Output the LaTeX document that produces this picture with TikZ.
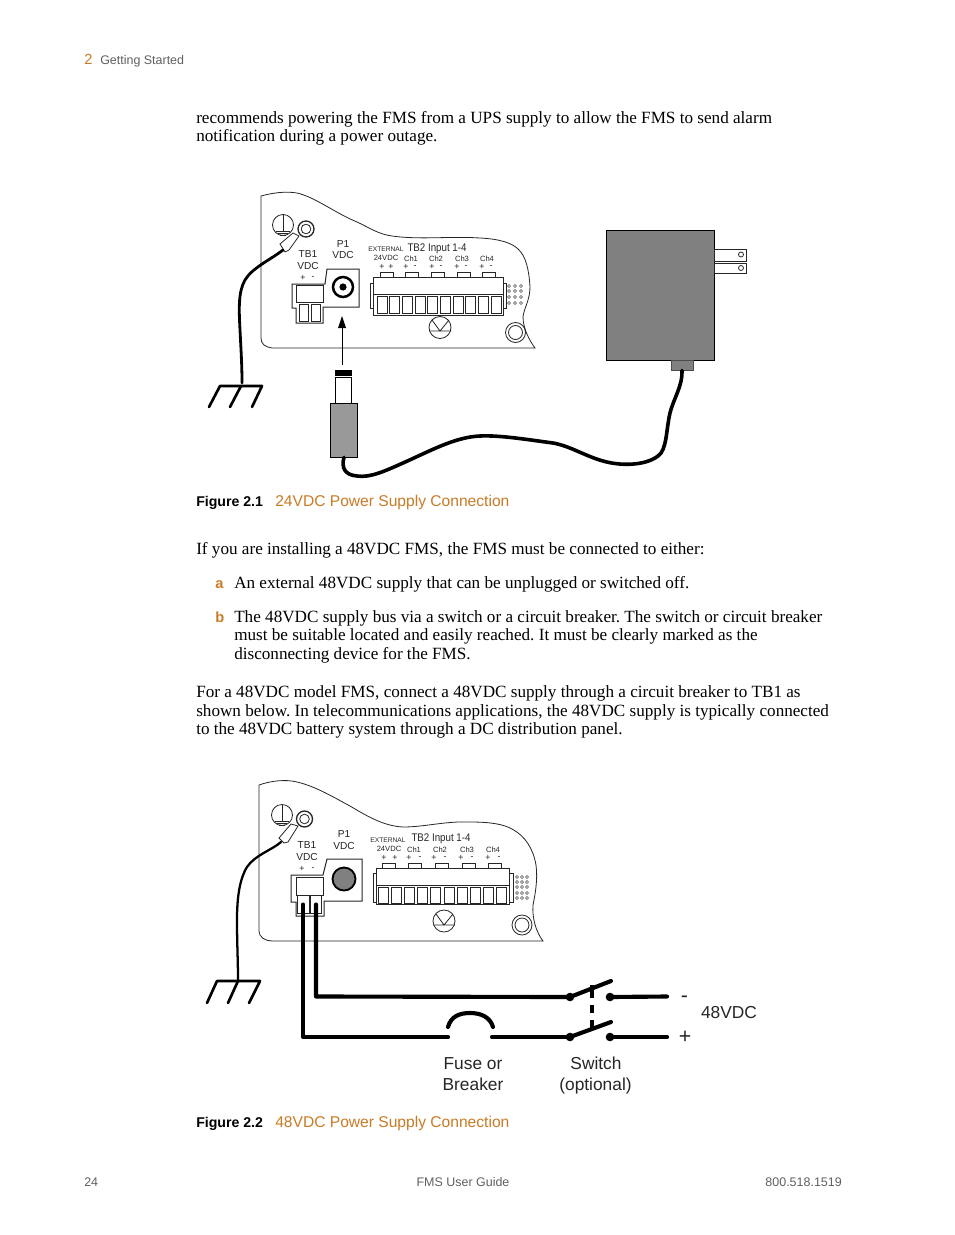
\documentclass[tikz,border=0pt]{standalone}
\usepackage{fontspec}
\setmainfont{Liberation Serif}
\setsansfont{Liberation Sans}
\newfontfamily\condsans[FakeStretch=0.88]{Liberation Sans}
\definecolor{accent}{HTML}{C97B26}
\definecolor{footgray}{HTML}{606060}
\newcommand{\fz}[1]{\fontsize{#1}{#1}\selectfont}
\frenchspacing
\tikzset{
  x=0.75pt,y=-0.75pt,
  body/.style={anchor=base west,inner sep=0pt,font=\rmfamily\fz{12.85}},
  sans/.style={inner sep=0pt,font=\sffamily\fz{9.35},text=footgray},
  capt/.style={anchor=base west,inner sep=0pt,font=\sffamily\fz{11.7}},
  capb/.style={anchor=base west,inner sep=0pt,font=\sffamily\bfseries\fz{10.6}},
  thinl/.style={draw=black!85,line width=0.6pt},
  med/.style={draw=black!85,line width=0.75pt},
  wire/.style={draw=black,line width=3.1pt,line cap=round,line join=round},
  cable/.style={draw=black,line width=2.7pt,line cap=round},
  earthw/.style={draw=black,line width=2.1pt,line cap=round},
  gnd/.style={draw=black,line width=2pt,line cap=round,line join=round},
  dlabel/.style={anchor=base,inner sep=0pt,font=\sffamily\fz{13},text=black!85},
  plabel/.style={inner sep=0pt,font=\sffamily\fz{7.6},text=black!85},
  tlabel/.style={inner sep=0pt,font=\condsans\fz{8.3},text=black!85},
  slabel/.style={inner sep=0pt,font=\sffamily\fz{5.7},text=black!85},
  xlabel/.style={inner sep=0pt,font=\sffamily\fz{5},text=black!85},
  pm/.style={inner sep=0pt,font=\sffamily\fz{6.6},text=black!85},
}
\begin{document}
\begin{tikzpicture}
\useasboundingbox[fill=white] (0,0) rectangle (954,1235);
% running head
\node[anchor=base west,inner sep=0pt,font=\sffamily\fz{11},text=accent] (chap) at (84,64) {2};
\node[anchor=base west,sans] (head) at (100,64) {Getting Started};
% body text
\node[body] (t1) at (196,123) {recommends powering the FMS from a UPS supply to allow the FMS to send alarm};
\node[body] (t2) at (196,141.5) {notification during a power outage.};
\node[body] (t3) at (196,554) {If you are installing a 48VDC FMS, the FMS must be connected to either:};
\node[anchor=base west,inner sep=0pt,font=\sffamily\bfseries\fz{11},text=accent] (la) at (215,588) {a};
\node[body] (t4) at (234,588) {An external 48VDC supply that can be unplugged or switched off.};
\node[anchor=base west,inner sep=0pt,font=\sffamily\bfseries\fz{11},text=accent] (lb) at (215,622) {b};
\node[body] (t5) at (234,622) {The 48VDC supply bus via a switch or a circuit breaker. The switch or circuit breaker};
\node[body] (t6) at (234,640.5) {must be suitable located and easily reached. It must be clearly marked as the};
\node[body] (t7) at (234,659) {disconnecting device for the FMS.};
\node[body] (t8) at (196,697) {For a 48VDC model FMS, connect a 48VDC supply through a circuit breaker to TB1 as};
\node[body] (t9) at (196,716) {shown below. In telecommunications applications, the 48VDC supply is typically connected};
\node[body] (t10) at (196,734.5) {to the 48VDC battery system through a DC distribution panel.};
% captions
\node[capb] (c1a) at (196,506) {Figure 2.1};
\node[capt,text=accent] (c1b) at (275,506) {24VDC Power Supply Connection};
\node[capb] (c2a) at (196,1127) {Figure 2.2};
\node[capt,text=accent] (c2b) at (275,1127) {48VDC Power Supply Connection};
% footer
\node[anchor=base west,sans] (f1) at (84,1186) {24};
\node[anchor=base,sans] (f2) at (463,1186) {FMS User Guide};
\node[anchor=base east,sans] (f3) at (842,1186) {800.518.1519};

% ================= FIGURE 2.1 =================
\draw[thinl] (261,232) -- (261,196) .. controls (272,193) and (285,191) .. (297,193)
  .. controls (315,197) and (335,213) .. (357,222)
  .. controls (370,228) and (378,234) .. (392,236)
  .. controls (420,240) and (450,236) .. (480,238)
  .. controls (500,239) and (512,243) .. (518,249)
  .. controls (526,256) and (529,270) .. (530,287)
  .. controls (530,300) and (524,308) .. (523,317)
  .. controls (523,328) and (529,340) .. (535,348)
  -- (272,348) .. controls (265,347) and (261,344) .. (261,338) -- (261,232);
% earth symbol, ring, lug
\draw[thinl] (283,225) circle (10.5);
\draw[thinl] (283,215) -- (283,231) (276,231) -- (290,231) (278,233) -- (288,233) (280,235) -- (286,235);
\draw[med,line width=1pt] (306,229) circle (8);
\draw[thinl] (306,229) circle (4.8);
\draw[thinl,fill=white] (299,236) -- (289,250) -- (285,252) -- (280,244) -- (293,233) -- cycle;
% earth wire
\coordinate (w1a) at (283,250);
\coordinate (w1b) at (242,383);
\draw[earthw] (w1a) .. controls (270,260) and (252,268) .. (245,280)
  .. controls (238,292) and (239,310) .. (240,330) .. controls (241,350) and (242,365) .. (w1b);
\draw[gnd] (209,407) -- (220,386) -- (262,386) -- (252,407);
\draw[gnd] (241,386) -- (230,407);
% TB1 / P1 housing
\draw[med] (292,284) -- (325,284) -- (327,269) -- (359,269) -- (359,307) -- (323,307) -- (323,323) -- (296,323) -- (296,308) -- (292,308) -- cycle;
\draw[thinl] (296,285) rectangle (323,302);
\draw[med] (299,304) rectangle (308,321);
\draw[med] (311,304) rectangle (320,321);
\draw[line width=1.9pt] (343,287) circle (10);
\fill (343,287) circle (3.6);
\node[plabel] (p1a) at (308,254) {TB1};
\node[plabel] (p1b) at (308,266) {VDC};
\node[pm] (p1c) at (303,278) {+};
\node[pm] (p1d) at (313,278) {-};
\node[plabel] (p1e) at (343,244) {P1};
\node[plabel] (p1f) at (343,255) {VDC};
\node[xlabel] (p1g) at (386,249.5) {EXTERNAL};
\node[tlabel] (p1h) at (437,248.5) {TB2 Input 1-4};
\node[slabel] (p1i) at (386,258) {24VDC};
\foreach \n/\px in {Ch1/411,Ch2/436,Ch3/462,Ch4/487}{\node[slabel] at (\px,259) {\n};}
\foreach \px/\a/\b in {381/+/+,405/+/-,431/+/-,456/+/-,481/+/-}{
  \node[pm] at (\px+1,267) {\a};
  \node[pm] at (\px+10,267) {\b};
}
% TB2
\draw[thinl] (370,283) rectangle (373,308);
\draw[thinl] (503,283) rectangle (506,308);
\draw[med,fill=white] (373,277) rectangle (503,315);
\draw[thinl] (373,294.5) -- (503,294.5);
\foreach \i in {0,...,9}{\draw[med] (377+12.7*\i,296.5) rectangle (387+12.7*\i,313);}
\foreach \px in {380,405,431,457,482}{\draw[thinl] (\px,277) -- (\px,272) -- (\px+13,272) -- (\px+13,277);}
\foreach \px in {509,515,521}{\foreach \py in {286,291,297,303}{\draw[black!70,line width=0.4pt] (\px,\py) circle (1.6);}}
% V circle, ring
\draw[thinl] (440,327.5) circle (11);
\draw[thinl] (429,331) -- (451,331) (432,320) -- (440,331) -- (449,320);
\draw[thinl] (515.5,332.5) circle (10);
\draw[thinl] (515.5,332.5) circle (7);
% plug and arrow
\node[draw=black,line width=0.6pt,fill=white,minimum width=12.4pt,minimum height=19.5pt,inner sep=0pt] (tip) at (343.5,390) {};
\fill (335,370) rectangle (352,376);
\node[draw=black,line width=0.5pt,fill=black!40,minimum width=20.7pt,minimum height=40.5pt,inner sep=0pt] (plug) at (344,430) {};
\coordinate (arrowfrom) at (342,365);
\coordinate (arrowto) at (342,316);
\draw[line width=0.6pt] (arrowfrom) -- (342,326);
\fill (arrowto) -- (346,328) -- (338,328) -- cycle;
% adapter
\node[draw=black,line width=0.7pt,fill=black!50,minimum width=81pt,minimum height=97.5pt,inner sep=0pt] (adapter) at (660,295) {};
\node[draw=black!70,line width=0.5pt,fill=black!50,minimum width=16.5pt,minimum height=7.5pt,inner sep=0pt] (strain) at (682,365) {};
\draw[thinl] (714,249) rectangle (746,261);
\draw[thinl] (714,263) rectangle (746,273);
\draw[thinl] (741,254.5) circle (2.5);
\draw[thinl] (741,268) circle (2.5);
% adapter cable
\draw[cable] (strain.south) .. controls (683,385) and (673,400) .. (670,413)
  .. controls (666,430) and (667,450) .. (658,456)
  .. controls (645,466) and (620,466) .. (603,461)
  .. controls (585,456) and (570,446) .. (553,443)
  .. controls (530,440) and (500,435) .. (480,436)
  .. controls (455,437) and (430,451) .. (403,463)
  .. controls (385,471) and (370,478) .. (357,476)
  .. controls (345,475) and (341,468) .. (plug.south);

% ================= FIGURE 2.2 =================
\draw[thinl] (259,822) -- (259,785) .. controls (270,781) and (285,779) .. (297,782)
  .. controls (315,786) and (335,798) .. (350,806)
  .. controls (370,818) and (385,826) .. (403,827)
  .. controls (425,827) and (445,821) .. (470,822)
  .. controls (490,822) and (503,824) .. (512,829)
  .. controls (525,836) and (533,848) .. (536,865)
  .. controls (538,880) and (535,895) .. (533,905)
  .. controls (532,918) and (536,932) .. (543,941)
  -- (272,941) .. controls (265,941) and (259,937) .. (259,931) -- (259,822);
\draw[thinl] (282,815) circle (10.5);
\draw[thinl] (282,805) -- (282,821) (275,821) -- (289,821) (277,823) -- (287,823) (279,825) -- (285,825);
\draw[med,line width=1pt] (304.5,819) circle (8);
\draw[thinl] (304.5,819) circle (4.8);
\draw[thinl,fill=white] (298,826) -- (288,842) -- (284,843) -- (279,838) -- (291,824) -- cycle;
\coordinate (w2a) at (281,842);
\coordinate (w2b) at (238,980);
\draw[draw=black,line width=1.7pt,line cap=round] (w2a) .. controls (272,850) and (255,855) .. (247,867)
  .. controls (239,880) and (237,900) .. (237,920) .. controls (237,945) and (238,960) .. (w2b);
\draw[gnd] (207,1003) -- (217,981) -- (260,981) -- (249,1003);
\draw[gnd] (238,981) -- (228,1003);
\draw[med] (291,875) -- (323,875) -- (327,859) -- (362,859) -- (362,901) -- (324,901) -- (324,916) -- (296,916) -- (296,902) -- (291,902) -- cycle;
\draw[thinl] (296,877) rectangle (323,895);
\node[draw=black!85,line width=0.75pt,minimum width=9pt,minimum height=12.8pt,inner sep=0pt] (scr1) at (303,904.5) {};
\node[draw=black!85,line width=0.75pt,minimum width=8.3pt,minimum height=12.8pt,inner sep=0pt] (scr2) at (316,904.5) {};
\draw[line width=1.4pt,fill=black!50] (344,879) circle (11.5);
\node[plabel] (p2a) at (307,845) {TB1};
\node[plabel] (p2b) at (307,857) {VDC};
\node[pm] (p2c) at (302,869) {+};
\node[pm] (p2d) at (313,869) {-};
\node[plabel] (p2e) at (344,834) {P1};
\node[plabel] (p2f) at (344,846) {VDC};
\node[xlabel] (p2g) at (388,840) {EXTERNAL};
\node[tlabel] (p2h) at (441,838.5) {TB2 Input 1-4};
\node[slabel] (p2i) at (389,848.5) {24VDC};
\foreach \n/\px in {Ch1/414,Ch2/440,Ch3/467,Ch4/493}{\node[slabel] at (\px,849.5) {\n};}
\foreach \px/\a/\b in {384/+/+,409/+/-,434/+/-,461/+/-,488/+/-}{
  \node[pm] at (\px,858) {\a};
  \node[pm] at (\px+11,858) {\b};
}
\draw[thinl] (373,873) rectangle (376,902);
\draw[thinl] (509,873) rectangle (513,902);
\draw[med,fill=white] (376,868) rectangle (509,904);
\draw[thinl] (376,885.5) -- (509,885.5);
\foreach \i in {0,...,9}{\draw[med] (378.5+13.1*\i,887.5) rectangle (388.5+13.1*\i,903);}
\foreach \px in {382,408,435,462,488}{\draw[thinl] (\px,868) -- (\px,863) -- (\px+13.5,863) -- (\px+13.5,868);}
\foreach \px in {517,522,527}{\foreach \py in {877,882,887,893,898}{\draw[black!70,line width=0.4pt] (\px,\py) circle (1.6);}}
\draw[thinl] (444,921) circle (11);
\draw[thinl] (433,925) -- (455,925) (436,914) -- (444,925) -- (453,914);
\draw[thinl] (522,925) circle (10);
\draw[thinl] (522,925) circle (7);
% wiring
\coordinate (swnl) at (570,997);
\coordinate (swnr) at (610,997);
\coordinate (swpl) at (570,1037);
\coordinate (swpr) at (610,1037);
\coordinate (fl) at (448,1037);
\coordinate (fr) at (492,1037);
\coordinate (nend) at (667,996.5);
\coordinate (pend) at (667,1037);
\draw[wire] (scr2.center) -- (316,996.5) -- (swnl);
\draw[wire] (scr1.center) -- (303,1037) -- (fl);
\draw[wire] (fr) -- (swpl);
\draw[wire] (swnr) -- (nend);
\draw[wire] (swpr) -- (pend);
\draw[wire] (448,1027) .. controls (451,1016) and (460,1013) .. (470,1013) .. controls (481,1013) and (490,1017) .. (493,1027);
\draw[wire] (swnl) -- (611,981);
\draw[wire] (swpl) -- (611,1022);
\foreach \c in {swnl,swnr,swpl,swpr}{\fill (\c) circle (4.3);}
\draw[wire,line cap=butt,line width=3.4pt] (592,985) -- (592,998) (592,1005) -- (592,1013) (592,1020) -- (592,1029);
\node[inner sep=0pt,font=\sffamily\fz{16},text=black!85] (minus) at (684.5,999.5) {-};
\node[inner sep=0pt,font=\sffamily\fz{16},text=black!85] (plus) at (685,1037) {+};
\node[dlabel] (v48) at (729,1018) {48VDC};
\node[dlabel] (fuse1) at (473,1069) {Fuse or};
\node[dlabel] (fuse2) at (473,1090) {Breaker};
\node[dlabel] (sw1) at (596,1069) {Switch};
\node[dlabel] (sw2) at (595.5,1090) {(optional)};
\end{tikzpicture}
\end{document}
